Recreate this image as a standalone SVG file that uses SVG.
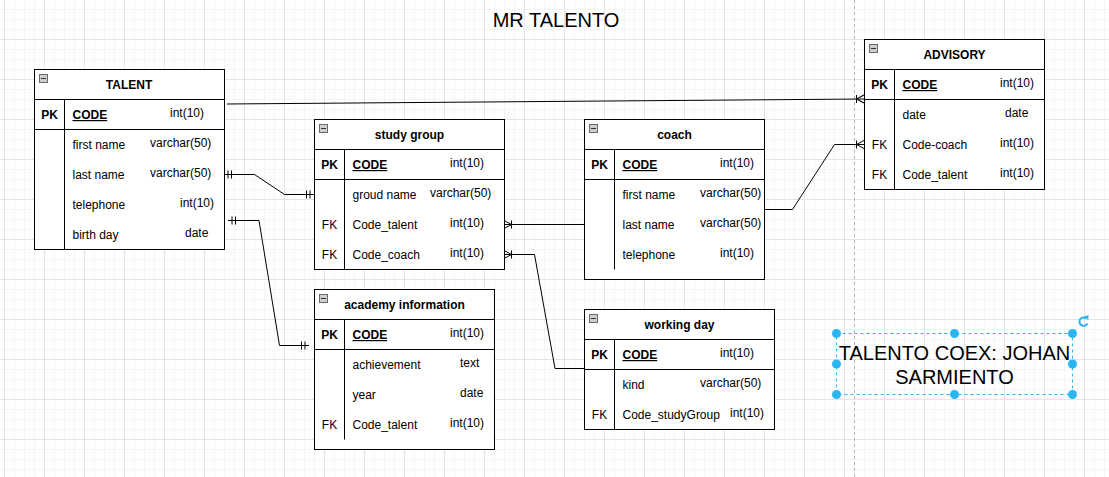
<svg xmlns="http://www.w3.org/2000/svg" xmlns:xlink="http://www.w3.org/1999/xlink" width="1109" height="477" viewBox="0 0 1109 477">
<style>
.tbl{fill:#fff;stroke:#000;stroke-width:1}
.ln{fill:none;stroke:#000;stroke-width:1}
text{font-family:"Liberation Sans",Arial,sans-serif;font-size:12px;fill:#000}
.h{font-weight:bold;text-anchor:middle}
.pk{font-weight:bold;text-anchor:middle}
.fk{text-anchor:middle}
.code{font-weight:bold;text-decoration:underline}
.big{font-size:20px;text-anchor:middle}
.conn{fill:none;stroke:#000;stroke-width:1}
.sel{fill:none;stroke:#29b6f2;stroke-width:1;stroke-dasharray:3 3}
.hd{fill:#29b6f2}
</style>
<defs>
<pattern id="grid" width="40" height="40" patternUnits="userSpaceOnUse" x="4" y="-1">
<path d="M10.5,0V40M20.5,0V40M30.5,0V40M0,10.5H40M0,20.5H40M0,30.5H40" stroke="#f5f5f5" stroke-width="1" fill="none"/>
<path d="M0.5,0V40M0,0.5H40" stroke="#e4e4e4" stroke-width="1" fill="none"/>
</pattern>
<g id="col"><rect x="0.5" y="0.5" width="8" height="8" fill="#cfcfcf" stroke="#6a6a6a"/><path d="M2,4.5H7" stroke="#333" stroke-width="1"/></g>
<marker id="crow" markerUnits="userSpaceOnUse" markerWidth="20" markerHeight="20" viewBox="-10 -10 20 20" refX="0" refY="0" orient="auto" overflow="visible"><path d="M0,-4L-7.5,0L0,4M-7.5,-4V4" fill="none" stroke="#000" stroke-width="1"/></marker>
<marker id="one" markerUnits="userSpaceOnUse" markerWidth="20" markerHeight="20" viewBox="-10 -10 20 20" refX="0" refY="0" orient="auto-start-reverse" overflow="visible"><path d="M-4,-4V4M-7.5,-4V4" fill="none" stroke="#000" stroke-width="1"/></marker>
</defs>
<rect width="1109" height="477" fill="#fff"/>
<rect width="1109" height="477" fill="url(#grid)"/>
<path d="M854.5,0V477" stroke="#b5b5b5" stroke-width="1" stroke-dasharray="3 3"/>

<text class="big" x="556" y="27">MR TALENTO</text>

<g id="connectors">
<path class="conn" d="M227,104L864,99" marker-end="url(#crow)"/>
<path class="conn" d="M224,174.5H254.5L284.5,194.5H314" marker-start="url(#one)" marker-end="url(#one)"/>
<path class="conn" d="M228,220.5H259L279.5,345.5H309" marker-start="url(#one)" marker-end="url(#one)"/>
<path class="conn" d="M584,224.5H504" marker-end="url(#crow)"/>
<path class="conn" d="M584,368.5H555L534.5,254.5H504" marker-end="url(#crow)"/>
<path class="conn" d="M763,209.5H792.5L834.5,144.5H864" marker-end="url(#crow)"/>
</g>

<g id="talent">
<rect class="tbl" x="34.5" y="69.5" width="190" height="180"/>
<path class="ln" d="M34.5,99.5H224.5M34.5,129.5H224.5M64.5,99.5V249.5"/>
<use xlink:href="#col" x="39" y="74"/>
<text class="h" x="129" y="89">TALENT</text>
<text class="pk" x="49.5" y="119">PK</text>
<text class="code" x="72.5" y="119">CODE</text><text x="170" y="117">int(10)</text>
<text x="72.5" y="149">first name</text><text x="150" y="147">varchar(50)</text>
<text x="72.5" y="179">last name</text><text x="150" y="177">varchar(50)</text>
<text x="72.5" y="209">telephone</text><text x="180" y="207">int(10)</text>
<text x="72.5" y="239">birth day</text><text x="185" y="237">date</text>
</g>

<g id="study-group">
<rect class="tbl" x="314.5" y="119.5" width="190" height="150"/>
<path class="ln" d="M314.5,149.5H504.5M314.5,179.5H504.5M344.5,149.5V269.5"/>
<use xlink:href="#col" x="319" y="124"/>
<text class="h" x="409.5" y="139">study group</text>
<text class="pk" x="329.5" y="169">PK</text>
<text class="code" x="352.5" y="169">CODE</text><text x="450" y="167">int(10)</text>
<text x="352.5" y="199">groud name</text><text x="430" y="197">varchar(50)</text>
<text class="fk" x="329.5" y="229">FK</text><text x="352.5" y="229">Code_talent</text><text x="450" y="227">int(10)</text>
<text class="fk" x="329.5" y="259">FK</text><text x="352.5" y="259">Code_coach</text><text x="450" y="257">int(10)</text>
</g>

<g id="coach">
<rect class="tbl" x="584.5" y="119.5" width="180" height="160"/>
<path class="ln" d="M584.5,149.5H764.5M584.5,179.5H764.5M614.5,149.5V269.5"/>
<use xlink:href="#col" x="589" y="124"/>
<text class="h" x="674.5" y="139">coach</text>
<text class="pk" x="599.5" y="169">PK</text>
<text class="code" x="622.5" y="169">CODE</text><text x="720" y="167">int(10)</text>
<text x="622.5" y="199">first name</text><text x="700" y="197">varchar(50)</text>
<text x="622.5" y="229">last name</text><text x="700" y="227">varchar(50)</text>
<text x="622.5" y="259">telephone</text><text x="720" y="257">int(10)</text>
</g>

<g id="advisory">
<rect class="tbl" x="864.5" y="39.5" width="180" height="150"/>
<path class="ln" d="M864.5,69.5H1044.5M864.5,99.5H1044.5M894.5,69.5V189.5"/>
<use xlink:href="#col" x="869" y="44"/>
<text class="h" x="954.5" y="59">ADVISORY</text>
<text class="pk" x="879.5" y="89">PK</text>
<text class="code" x="902.5" y="89">CODE</text><text x="1000" y="87">int(10)</text>
<text x="902.5" y="119">date</text><text x="1005" y="117">date</text>
<text class="fk" x="879.5" y="149">FK</text><text x="902.5" y="149">Code-coach</text><text x="1000" y="147">int(10)</text>
<text class="fk" x="879.5" y="179">FK</text><text x="902.5" y="179">Code_talent</text><text x="1000" y="177">int(10)</text>
</g>

<g id="academy-information">
<rect class="tbl" x="314.5" y="289.5" width="180" height="160"/>
<path class="ln" d="M314.5,319.5H494.5M314.5,349.5H494.5M344.5,319.5V439.5"/>
<use xlink:href="#col" x="319" y="294"/>
<text class="h" x="404.5" y="309">academy information</text>
<text class="pk" x="329.5" y="339">PK</text>
<text class="code" x="352.5" y="339">CODE</text><text x="450" y="337">int(10)</text>
<text x="352.5" y="369">achievement</text><text x="460" y="367">text</text>
<text x="352.5" y="399">year</text><text x="460" y="397">date</text>
<text class="fk" x="329.5" y="429">FK</text><text x="352.5" y="429">Code_talent</text><text x="450" y="427">int(10)</text>
</g>

<g id="working-day">
<rect class="tbl" x="584.5" y="309.5" width="190" height="120"/>
<path class="ln" d="M584.5,339.5H774.5M584.5,369.5H774.5M614.5,339.5V429.5"/>
<use xlink:href="#col" x="589" y="314"/>
<text class="h" x="679.5" y="329">working day</text>
<text class="pk" x="599.5" y="359">PK</text>
<text class="code" x="622.5" y="359">CODE</text><text x="720" y="357">int(10)</text>
<text x="622.5" y="389">kind</text><text x="700" y="387">varchar(50)</text>
<text class="fk" x="599.5" y="419">FK</text><text x="622.5" y="419">Code_studyGroup</text><text x="730" y="417">int(10)</text>
</g>

<g id="author-label">
<text class="big" x="954.5" y="360">TALENTO COEX: JOHAN</text>
<text class="big" x="954.5" y="383.5">SARMIENTO</text>
<rect class="sel" x="836.5" y="333.5" width="236" height="61"/>
<circle class="hd" cx="836.5" cy="333.5" r="4.5"/>
<circle class="hd" cx="954.5" cy="333.5" r="4.5"/>
<circle class="hd" cx="1072.5" cy="333.5" r="4.5"/>
<circle class="hd" cx="836.5" cy="364" r="4.5"/>
<circle class="hd" cx="1072.5" cy="364" r="4.5"/>
<circle class="hd" cx="836.5" cy="394.5" r="4.5"/>
<circle class="hd" cx="954.5" cy="394.5" r="4.5"/>
<circle class="hd" cx="1072.5" cy="394.5" r="4.5"/>
<path d="M1086.6,318.6A4.2,4.2 0 1 0 1087.4,323.5" fill="none" stroke="#29b6f2" stroke-width="2"/>
<path d="M1084.2,316.2L1088.6,315.2L1088.2,320Z" fill="#29b6f2"/>
</g>
</svg>
